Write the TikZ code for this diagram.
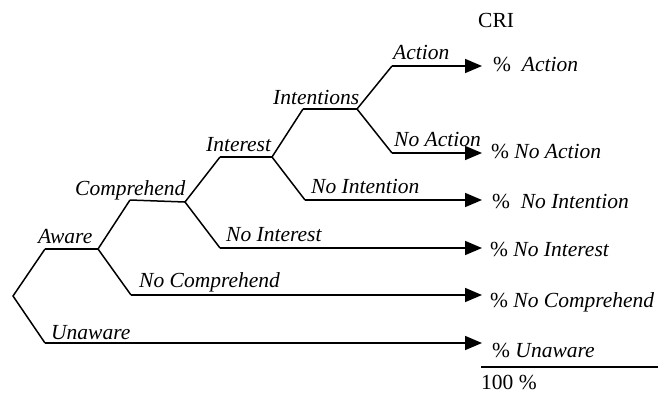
\documentclass[tikz,border=0pt]{standalone}
\usepackage{fontspec}
\setmainfont{Liberation Serif}
\usetikzlibrary{arrows.meta}
\begin{document}
\begin{tikzpicture}[x=1pt,y=-1pt,
  branch/.style={line width=1.5pt, line join=miter},
  outarrow/.style={line width=1.6pt, -{Triangle[length=17pt,width=14pt]}},
  lbl/.style={anchor=base west, inner sep=0pt, font=\fontsize{21.5}{24}\selectfont\itshape},
  res/.style={anchor=base west, inner sep=0pt, font=\fontsize{21.5}{24}\selectfont}]
\useasboundingbox (0,0) rectangle (658,394);
% vertices
\coordinate (root) at (13,296);
\coordinate (aw) at (45,249);
\coordinate (awv) at (98,249);
\coordinate (un) at (45,343);
\coordinate (co) at (130,200);
\coordinate (cov) at (185,202);
\coordinate (nc) at (131,295);
\coordinate (in) at (220,157);
\coordinate (inv) at (272,157);
\coordinate (ni) at (220,248);
\coordinate (it) at (303,109);
\coordinate (itv) at (357,109);
\coordinate (nit) at (305,200);
\coordinate (ac) at (392,66);
\coordinate (na) at (392,153);
% tips
\coordinate (tac) at (482,66);
\coordinate (tna) at (482,153);
\coordinate (tnit) at (482,200);
\coordinate (tni) at (482,248);
\coordinate (tnc) at (482,295);
\coordinate (tun) at (482,343);
% branches
\draw[branch] (aw) -- (root) -- (un);
\draw[branch] (aw) -- (awv);
\draw[branch] (co) -- (awv) -- (nc);
\draw[branch] (co) -- (cov);
\draw[branch] (in) -- (cov) -- (ni);
\draw[branch] (in) -- (inv);
\draw[branch] (it) -- (inv) -- (nit);
\draw[branch] (it) -- (itv);
\draw[branch] (ac) -- (itv) -- (na);
% arrows
\draw[outarrow] (ac) -- (tac);
\draw[outarrow] (na) -- (tna);
\draw[outarrow] (nit) -- (tnit);
\draw[outarrow] (ni) -- (tni);
\draw[outarrow] (nc) -- (tnc);
\draw[outarrow] (un) -- (tun);
% labels
\node[lbl] (laware) at (38,243) {Aware};
\node[lbl] (lunaware) at (51,339) {Unaware};
\node[lbl] (lnocomp) at (139,287) {No Comprehend};
\node[lbl] (lcomp) at (75,195) {Comprehend};
\node[lbl] (linterest) at (206,151) {Interest};
\node[lbl] (lnointerest) at (226,241) {No Interest};
\node[lbl] (lnointention) at (311,193) {No Intention};
\node[lbl] (lintentions) at (273,104) {Intentions};
\node[lbl] (laction) at (393,59) {Action};
\node[lbl] (lnoaction) at (394,146) {No Action};
% results
\node[res] (cri) at (478,27) {CRI};
\node[res] (raction) at (493,71) {\% \ \textit{Action}};
\node[res] (rnoaction) at (491,158) {\% \textit{No Action}};
\node[res] (rnointention) at (492,208) {\% \ \textit{No Intention}};
\node[res] (rnointerest) at (490,256) {\% \textit{No Interest}};
\node[res] (rnocomp) at (490,307) {\% \textit{No Comprehend}};
\node[res] (runaware) at (492,357) {\% \textit{Unaware}};
\coordinate (sl) at (481,367);
\coordinate (sr) at (658,367);
\draw[line width=1.5pt] (sl) -- (sr);
\node[res] (total) at (481,389) {100 \%};
\end{tikzpicture}
\end{document}
